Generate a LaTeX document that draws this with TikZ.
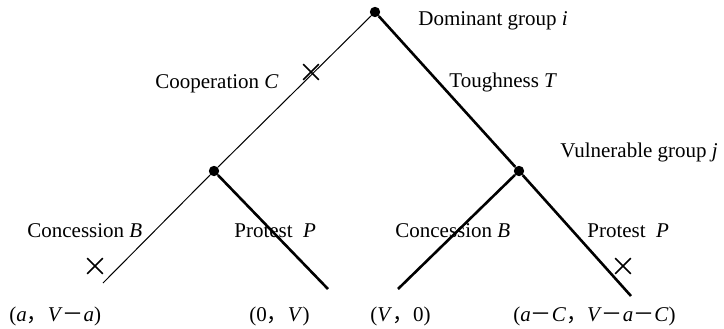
\documentclass[tikz,border=0pt]{standalone}
\usepackage{fontspec}
\setmainfont{Liberation Serif}
\newfontfamily\cjk{Noto Sans CJK SC}
\usetikzlibrary{shapes.misc}
\newcommand{\fwcomma}{{\cjk ，}}
\newcommand{\fwminus}{{\cjk －}}
\begin{document}
\begin{tikzpicture}[x=0.5pt, y=-0.5pt, every node/.style={font=\fontsize{10.5}{12}\selectfont},
  dot/.style={circle,fill,inner sep=0pt,minimum size=5.2pt},
  thinbranch/.style={line width=0.5pt},
  thickbranch/.style={line width=1.3pt},
  lbl/.style={anchor=base west,inner sep=0pt},
  nogo/.style={cross out,draw,inner sep=0pt,minimum size=7pt,line width=0.8pt}]
\useasboundingbox (0,0) rectangle (724,328);
% decision nodes
\node[dot] (gi) at (375,12) {};
\node[dot] (gjl) at (214,171) {};
\node[dot] (gjr) at (519,171) {};
\coordinate (ll) at (103,283);
\coordinate (lr) at (328,289);
\coordinate (rl) at (398,289);
\coordinate (rr) at (631,296);
% branches
\draw[thinbranch] (gi) -- (gjl);
\draw[thickbranch] (gi) -- (gjr);
\draw[thinbranch] (gjl) -- (ll);
\draw[thickbranch] (gjl) -- (lr);
\draw[thickbranch] (gjr) -- (rl);
\draw[thickbranch] (gjr) -- (rr);
% cut moves
\node[nogo] (x1) at (311,72) {};
\node[nogo] (x2) at (95,266) {};
\node[nogo] (x3) at (623,266) {};
% labels
\node[lbl] (dom) at (418,25) {Dominant group \textit{i}};
\node[lbl] (coop) at (155,88) {Cooperation \textit{C}};
\node[lbl] (tough) at (449,87) {Toughness \textit{T}};
\node[lbl] (vul) at (560,157) {Vulnerable group \textit{j}};
\node[lbl] (conl) at (27,237) {Concession \textit{B}};
\node[lbl] (prol) at (234,237) {Protest\ \ \textit{P}};
\node[lbl] (conr) at (395,237) {Concession \textit{B}};
\node[lbl] (pror) at (587,237) {Protest\ \ \textit{P}};
% payoffs
\node[lbl] (p1) at (9,321) {(\textit{a}\fwcomma\textit{V}\fwminus\textit{a})};
\node[lbl] (p2) at (249,321) {(0\fwcomma\textit{V})};
\node[lbl] (p3) at (370,321) {(\textit{V}\fwcomma 0)};
\node[lbl] (p4) at (513,321) {(\textit{a}\fwminus\textit{C}\fwcomma\textit{V}\fwminus\textit{a}\fwminus\textit{C})};
\end{tikzpicture}
\end{document}
